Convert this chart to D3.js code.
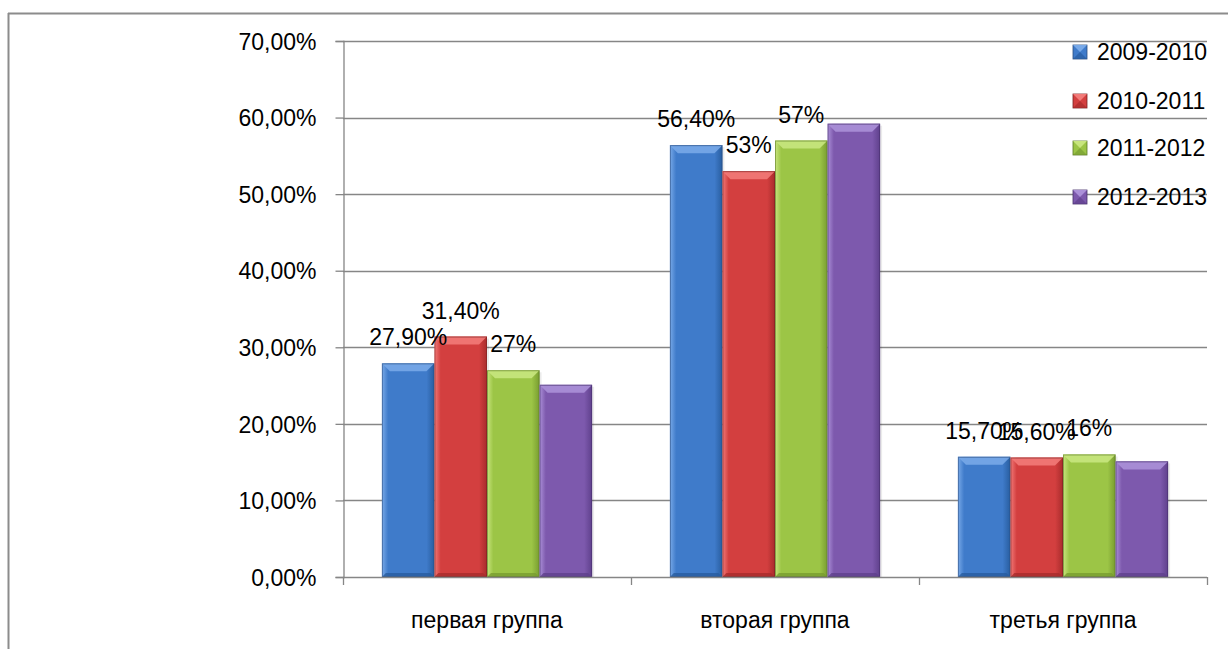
<!DOCTYPE html>
<html><head><meta charset="utf-8">
<script src="https://cdn.jsdelivr.net/npm/d3@7"></script>
<style>html,body{margin:0;padding:0;background:#fff;}svg{display:block;font-family:"Liberation Sans",Arial,sans-serif;}</style>
</head><body>
<svg id="c" width="1228" height="649"></svg>
<script>
const categories = ["первая группа", "вторая группа", "третья группа"];
const seriesNames = ["2009-2010", "2010-2011", "2011-2012", "2012-2013"];
const values2009 = [0.279, 0.564, 0.157];
const values2010 = [0.314, 0.53, 0.156];
const values2011 = [0.27, 0.57, 0.16];
const values2012 = [0.251, 0.592, 0.151];
const labels2009 = ["27,90%", "56,40%", "15,70%"];
const labels2010 = ["31,40%", "53%", "15,60%"];
const labels2011 = ["27%", "57%", "16%"];
const labels2012 = [null, null, null];
const yTicks = [0, 0.1, 0.2, 0.3, 0.4, 0.5, 0.6, 0.7];

(function(){
const seriesVals = [values2009, values2010, values2011, values2012];
const seriesLabels = [labels2009, labels2010, labels2011, labels2012];
const palette = [
  {body:"#3f7bca", light:"#78a9e8", dark:"#285d9f", edge:"#2c4f80"},
  {body:"#d33f3f", light:"#f27a78", dark:"#a82c2c", edge:"#7c2222"},
  {body:"#9cc546", light:"#c8e57e", dark:"#789c30", edge:"#5b7826"},
  {body:"#7d59ad", light:"#ab90d8", dark:"#5f408c", edge:"#46306a"}
];

const svg = d3.select("#c");
const pLeft = 343, pRight = 1207, pTop = 41, pBottom = 577;
const axisColor = "#868686";
const fontSize = 23;

// outer frame
svg.append("line").attr("x1",8.5).attr("x2",8.5).attr("y1",13).attr("y2",649).attr("stroke","#8c8c8c").attr("stroke-width",2);
svg.append("line").attr("x1",8).attr("x2",1228).attr("y1",13.5).attr("y2",13.5).attr("stroke","#8c8c8c").attr("stroke-width",2);

const y = d3.scaleLinear().domain([0, 0.7]).range([pBottom, pTop]);
const x0 = d3.scaleBand().domain(categories).range([pLeft, pRight]).paddingInner(0).paddingOuter(0);
const x1 = d3.scaleBand().domain(seriesNames).range([0, x0.bandwidth()]).paddingInner(0).paddingOuter(0.74);

const fmt = v => d3.format(".2f")(v*100).replace(".", ",") + "%";

// gridlines
svg.append("g").selectAll("line").data(yTicks.filter(t => t > 0)).join("line")
  .attr("x1", pLeft).attr("x2", pRight)
  .attr("y1", d => Math.round(y(d)) + 0.5).attr("y2", d => Math.round(y(d)) + 0.5)
  .attr("stroke", axisColor).attr("stroke-width", 1.3);

// y axis
const yAxis = d3.axisLeft(y).tickValues(yTicks).tickFormat(fmt).tickSize(8).tickPadding(19);
const gy = svg.append("g").attr("transform", `translate(${pLeft + 0.5},0)`).call(yAxis);
gy.select(".domain").attr("stroke", axisColor).attr("stroke-width",1.3);
gy.selectAll(".tick line").attr("stroke", axisColor).attr("stroke-width",1.3);
gy.selectAll(".tick text").attr("font-size", fontSize).attr("font-family", "Liberation Sans, Arial, sans-serif").attr("fill","#000").attr("dy","0.36em");

// bars
const defs = svg.append("defs");
palette.forEach((p, i) => {
  const g = defs.append("linearGradient").attr("id","bg"+i).attr("x1","0").attr("x2","1").attr("y1","0").attr("y2","0");
  g.append("stop").attr("offset","0").attr("stop-color", p.light);
  g.append("stop").attr("offset","0.12").attr("stop-color", p.body);
  g.append("stop").attr("offset","0.85").attr("stop-color", p.body);
  g.append("stop").attr("offset","1").attr("stop-color", p.dark);
});

const bev = 8;
seriesNames.forEach((s, si) => {
  const p = palette[si];
  const g = svg.append("g");
  categories.forEach((c, ci) => {
    const v = seriesVals[si][ci];
    const bx = x0(c) + x1(s);
    const bw = x1.bandwidth();
    const by = y(v);
    const bh = y(0) - by;
    g.append("rect").attr("x", bx + 2).attr("y", by + 2).attr("width", bw).attr("height", bh - 2).attr("fill", "#000").attr("opacity", 0.08);
    g.append("rect").attr("x", bx).attr("y", by).attr("width", bw).attr("height", bh).attr("fill", `url(#bg${si})`);
    g.append("polygon").attr("points", [[bx,by],[bx+bw,by],[bx+bw-bev,by+bev],[bx+bev,by+bev]].map(d=>d.join(",")).join(" "))
      .attr("fill", p.light).attr("opacity", 0.9);
    g.append("polygon").attr("points", [[bx,by+bh],[bx+bw,by+bh],[bx+bw-4,by+bh-4],[bx+4,by+bh-4]].map(d=>d.join(",")).join(" "))
      .attr("fill", p.dark).attr("opacity", 0.8);
    g.append("rect").attr("x", bx + 0.5).attr("y", by + 0.5).attr("width", bw - 1).attr("height", bh - 1)
      .attr("fill", "none").attr("stroke", p.edge).attr("stroke-width", 1).attr("opacity", 0.6);
  });
});

// x axis
svg.append("line").attr("x1", pLeft).attr("x2", pRight).attr("y1", pBottom + 0.5).attr("y2", pBottom + 0.5).attr("stroke", axisColor).attr("stroke-width", 1.3);
const bounds = categories.map(c => x0(c)).concat([pRight]);
svg.append("g").selectAll("line").data(bounds).join("line")
  .attr("x1", d => d + 0.5).attr("x2", d => d + 0.5).attr("y1", pBottom).attr("y2", pBottom + 8)
  .attr("stroke", axisColor).attr("stroke-width", 1.3);
svg.append("g").selectAll("text").data(categories).join("text")
  .attr("x", d => x0(d) + x0.bandwidth()/2).attr("y", 628)
  .attr("text-anchor", "middle").attr("font-size", fontSize).attr("fill", "#000").text(d => d);

// data labels
seriesNames.forEach((s, si) => {
  categories.forEach((c, ci) => {
    const t = seriesLabels[si][ci];
    if (!t) return;
    svg.append("text")
      .attr("x", x0(c) + x1(s) + x1.bandwidth()/2)
      .attr("y", y(seriesVals[si][ci]) - 18)
      .attr("text-anchor", "middle").attr("font-size", fontSize).attr("fill", "#000").text(t);
  });
});

// legend
const legY = [52, 101, 148, 197];
seriesNames.forEach((s, si) => {
  const p = palette[si];
  const g = svg.append("g").attr("transform", `translate(1073,${legY[si]})`);
  g.append("rect").attr("x", 0).attr("y", -7).attr("width", 14).attr("height", 14).attr("fill", p.body).attr("stroke", p.edge).attr("stroke-width", 0.8);
  g.append("polygon").attr("points", "0,-7 14,-7 7,0").attr("fill", p.light);
  g.append("polygon").attr("points", "0,7 14,7 7,0").attr("fill", p.dark).attr("opacity",0.7);
  g.append("text").attr("x", 24).attr("y", 0).attr("dy", "0.36em").attr("font-size", fontSize).attr("fill", "#000").text(s);
});
})();
</script>
</body></html>
